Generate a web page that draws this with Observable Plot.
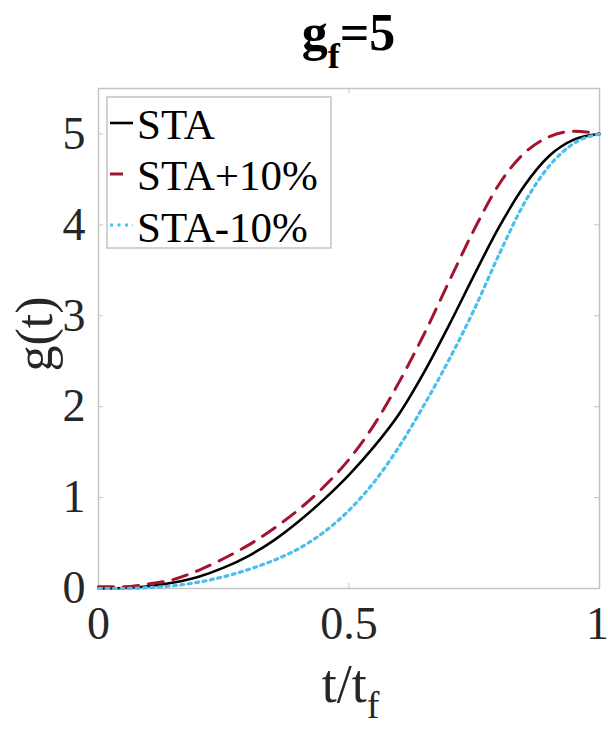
<!DOCTYPE html>
<html>
<head>
<meta charset="utf-8">
<script src="https://cdn.jsdelivr.net/npm/d3@7"></script>
<script src="https://cdn.jsdelivr.net/npm/@observablehq/plot@0.6"></script>
<style>
  html, body { margin: 0; padding: 0; background: #fff; }
  #wrap { position: relative; width: 608px; height: 742px; }
</style>
</head>
<body>
<div id="wrap"></div>
<script>
// ---- data ----
const tValues = [0, 0.05, 0.1, 0.15, 0.2, 0.25, 0.3, 0.35, 0.4, 0.45, 0.5, 0.55, 0.6, 0.65, 0.7, 0.75, 0.8, 0.85, 0.9, 0.95, 1];
const staValues      = [0, 0.005, 0.025, 0.065, 0.13, 0.23, 0.36, 0.53, 0.74, 0.98, 1.25, 1.56, 1.92, 2.38, 2.9, 3.45, 3.98, 4.43, 4.76, 4.94, 5.0];
const staPlusValues  = [0.02, 0.02, 0.05, 0.1, 0.2, 0.33, 0.48, 0.66, 0.87, 1.12, 1.42, 1.8, 2.27, 2.8, 3.38, 3.95, 4.45, 4.79, 4.97, 5.03, 5.0];
const staMinusValues = [0, 0, 0.01, 0.03, 0.07, 0.13, 0.21, 0.31, 0.44, 0.62, 0.86, 1.17, 1.56, 2.02, 2.52, 3.07, 3.68, 4.24, 4.65, 4.9, 5.0];
const seriesNames = ["STA", "STA+10%", "STA-10%"];
const xTicks = [0, 0.5, 1];
const yTicks = [0, 1, 2, 3, 4, 5];
const titleMain = "g", titleSub = "f", titleRest = "=5";
const xLabelMain = "t/t", xLabelSub = "f";
const yLabel = "g(t)";

const colors = {"STA": "#000000", "STA+10%": "#a2142f", "STA-10%": "#4dbeee"};
const dashes = {"STA": null, "STA+10%": "15,10", "STA-10%": "3,4.5"};
const widths = {"STA": 2.6, "STA+10%": 3, "STA-10%": 3.2};
const allValues = [staValues, staPlusValues, staMinusValues];
const rows = seriesNames.flatMap((name, i) => tValues.map((t, j) => ({series: name, t, g: allValues[i][j]})));

const W = 608, H = 742;
const mL = 98, mR = 9, mT = 88, mB = 154;
const plotW = W - mL - mR, plotH = H - mT - mB;
const font = "'Liberation Serif', 'Times New Roman', serif";
const gridGray = "#c4c4c4";
const tickLen = 5;

const lineMarks = seriesNames.map(name => Plot.line(rows.filter(d => d.series === name), {
  x: "t", y: "g", stroke: colors[name], strokeWidth: widths[name],
  strokeDasharray: dashes[name], curve: "monotone-x"
}));

const chart = Plot.plot({
  width: W, height: H,
  marginLeft: mL, marginRight: mR, marginTop: mT, marginBottom: mB,
  style: {fontFamily: font, background: "#fff"},
  x: {domain: [0, 1]},
  y: {domain: [0, 5.5]},
  marks: [
    Plot.frame({stroke: gridGray, strokeWidth: 1.5}),
    // inward ticks
    Plot.tickY(yTicks.slice(1), {y: d => d, stroke: gridGray, strokeWidth: 1, insetRight: plotW - tickLen}),
    Plot.tickY(yTicks.slice(1), {y: d => d, stroke: gridGray, strokeWidth: 1, insetLeft: plotW - tickLen}),
    Plot.tickX(xTicks.slice(1, -1), {x: d => d, stroke: gridGray, strokeWidth: 1, insetTop: plotH - tickLen}),
    Plot.tickX(xTicks.slice(1, -1), {x: d => d, stroke: gridGray, strokeWidth: 1, insetBottom: plotH - tickLen}),
    Plot.axisX(xTicks.slice(0, -1), {tickFormat: d => String(d), tickSize: 0, tickPadding: 18, fontSize: 46, label: null, fill: "#262626"}),
    Plot.axisX(xTicks.slice(-1), {tickFormat: d => String(d), tickSize: 0, tickPadding: 18, fontSize: 46, label: null, fill: "#262626", dx: -2}),
    Plot.axisY({ticks: yTicks, tickFormat: d => String(d), tickSize: 0, tickPadding: 13, fontSize: 46, label: null, fill: "#262626"}),
    ...lineMarks
  ]
});
document.getElementById("wrap").appendChild(chart);

const svg = d3.select(chart);
// title
const title = svg.append("text")
  .attr("x", mL + plotW / 2).attr("y", 50)
  .attr("text-anchor", "middle").attr("font-family", font)
  .attr("font-weight", "bold").attr("font-size", 52).attr("fill", "#000");
title.append("tspan").text(titleMain);
title.append("tspan").attr("dy", 18).attr("font-size", 36).text(titleSub);
title.append("tspan").attr("dy", -18).text(titleRest);

// x label
const xl = svg.append("text")
  .attr("x", mL + plotW / 2 + 2).attr("y", 702)
  .attr("text-anchor", "middle").attr("font-family", font)
  .attr("font-size", 54).attr("fill", "#262626");
xl.append("tspan").text(xLabelMain);
xl.append("tspan").attr("dy", 16).attr("font-size", 38).text(xLabelSub);

// y label
svg.append("text")
  .attr("transform", `translate(52,334) rotate(-90)`)
  .attr("text-anchor", "middle").attr("font-family", font)
  .attr("font-size", 52).attr("fill", "#262626")
  .text(yLabel);

// legend
const lg = svg.append("g").attr("transform", "translate(107,97)");
lg.append("rect").attr("width", 224).attr("height", 151)
  .attr("fill", "#fff").attr("stroke", gridGray).attr("stroke-width", 1.5);
const rowY = [26, 77, 128];
const baseY = [42, 93, 145];
const sampleLen = {"STA": 23, "STA+10%": 13, "STA-10%": 23};
seriesNames.forEach((name, i) => {
  lg.append("line").attr("x1", 3).attr("x2", 3 + sampleLen[name])
    .attr("y1", rowY[i]).attr("y2", rowY[i])
    .attr("stroke", colors[name]).attr("stroke-width", widths[name])
    .attr("stroke-dasharray", dashes[name]);
  lg.append("text").attr("x", 30).attr("y", baseY[i])
    .attr("text-anchor", "start")
    .attr("font-family", font).attr("font-size", 43).attr("fill", "#000")
    .text(name);
});
</script>
</body>
</html>
